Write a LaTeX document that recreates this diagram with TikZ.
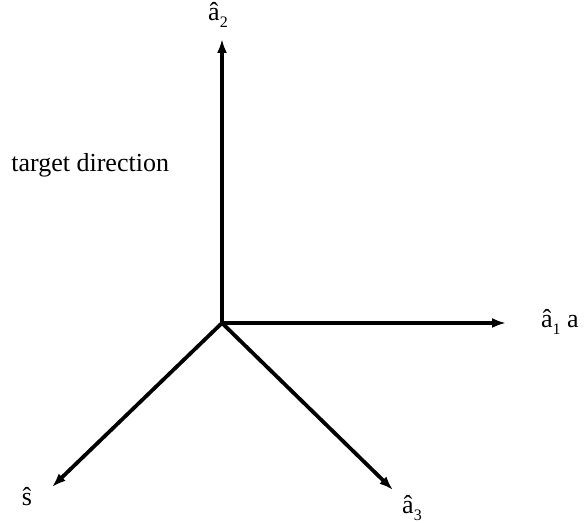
\documentclass[tikz,border=0pt]{standalone}
\usepackage{fontspec}
\setmainfont{Liberation Serif}
\usetikzlibrary{arrows.meta}
\newcommand\subx[1]{\raisebox{-0.6ex}{\fontsize{8}{8}\selectfont #1}}
\begin{document}
\begin{tikzpicture}[x=0.5pt,y=-0.5pt,
  axis/.style={line width=1.9pt,-{Latex[length=7pt,width=5pt]}},
  lbl/.style={inner sep=0pt,font=\fontsize{13}{15}\selectfont}]
\useasboundingbox (0,0) rectangle (585,523);
\coordinate (o) at (222,323);
\coordinate (t2) at (222,39);
\coordinate (t1) at (506,323);
\coordinate (ts) at (52,487);
\coordinate (t3) at (393,490);
\draw[axis] (o) -- (t2);
\draw[axis] (o) -- (t1);
\draw[axis] (o) -- (ts);
\draw[axis] (o) -- (t3);
\node[lbl] (a2) at (218,15) {â\subx{2}};
\node[lbl] (a1) at (560,322) {â\subx{1}\ a};
\node[lbl] (s) at (27,497) {ŝ};
\node[lbl] (a3) at (412,508) {â\subx{3}};
\node[lbl,anchor=west] (td) at (11,165) {target direction};
\end{tikzpicture}
\end{document}
